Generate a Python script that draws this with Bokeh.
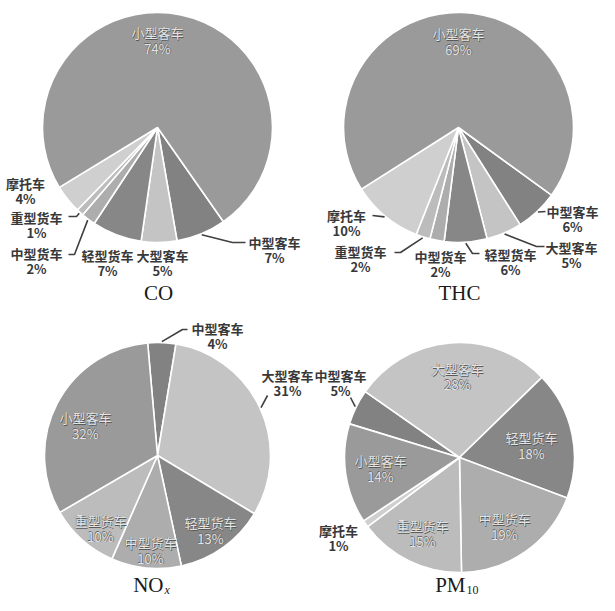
import numpy as np
from bokeh.plotting import figure
from bokeh.models import Range1d
from bokeh.embed import file_html
from bokeh.resources import INLINE
from bokeh.core.properties import value

# ---------------- data ----------------
categories = ["中型客车", "大型客车", "轻型货车", "中型货车", "重型货车", "摩托车", "小型客车"]
slice_colors = ["#828282", "#c4c4c4", "#878787", "#adadad", "#bcbcbc", "#cfcfcf", "#9a9a9a"]

co_values = [7, 5, 7, 2, 1, 4, 74]
thc_values = [6, 5, 6, 2, 2, 10, 69]
nox_values = [4, 31, 13, 10, 10, 0, 32]
pm10_values = [5, 28, 18, 19, 15, 1, 14]

# ---------------- layout (reference pixel coordinates, 1:1) ----------------
H = 611
FW, FH = 599, 595
CJK = "Noto Sans CJK SC"
SERIF = "Liberation Serif"

pies = [
    dict(title=("CO", ""), values=co_values, cx=157, cy=127, r=115, start=145, tx=158, ty=292,
         labels={"中型客车": (274, 242, False), "大型客车": (162, 255, False), "轻型货车": (107, 255, False),
                 "中型货车": (36, 253, False), "重型货车": (36, 217, False), "摩托车": (25, 183, False),
                 "小型客车": (157, 32, True)},
         leaders={"中型客车": [(232, 242), (245, 242)], "重型货车": [(76, 216), (68, 216)],
                  "中型货车": [(74, 254), (68, 254)]}),
    dict(title=("THC", ""), values=thc_values, cx=458, cy=127, r=115, start=126, tx=459, ty=292,
         labels={"中型客车": (572, 211, False), "大型客车": (571, 247, False), "轻型货车": (510, 254, False),
                 "中型货车": (440, 256, False), "重型货车": (360, 251, False), "摩托车": (346, 215, False),
                 "小型客车": (458, 33, True)},
         leaders={"中型客车": [(545, 211)], "大型客车": [(536, 246), (544, 246)],
                  "轻型货车": [(472, 253), (479, 253)], "重型货车": [(400, 252), (394, 252)],
                  "摩托车": [(372, 215)]}),
    dict(title=("NO", "x"), values=nox_values, cx=157, cy=455, r=113, start=355, tx=157, ty=584,
         labels={"中型客车": (217, 328, False), "大型客车": (287, 375, False), "轻型货车": (210, 522, True),
                 "中型货车": (150, 542, True), "重型货车": (100, 520, True), "小型客车": (85, 417, True)},
         leaders={"中型客车": [(182, 329), (187, 329)], "大型客车": [(267, 395)]}),
    dict(title=("PM", "10"), values=pm10_values, cx=459, cy=457, r=115, start=287, tx=459, ty=584,
         labels={"中型客车": (340, 375, False), "大型客车": (457, 368, True), "轻型货车": (531, 437, True),
                 "中型货车": (504, 518, True), "重型货车": (422, 525, True), "摩托车": (338, 530, False),
                 "小型客车": (380, 460, True)},
         leaders={"中型客车": [(350, 397)]}),
]

p = figure(width=FW, height=FH, x_range=Range1d(0, FW), y_range=Range1d(H - FH, H),
           output_backend="svg", toolbar_location=None, min_border=0)
p.axis.visible = False
p.grid.visible = False
p.outline_line_color = None
p.background_fill_color = "white"
p.border_fill_color = "white"

for pie in pies:
    vals = np.array(pie["values"], dtype=float)
    frac = vals / vals.sum()
    ends = pie["start"] + np.cumsum(frac) * 360.0
    starts = ends - frac * 360.0
    mids = (starts + ends) / 2.0
    idx = [i for i in range(len(vals)) if vals[i] > 0]
    p.wedge(x=pie["cx"], y=H - pie["cy"], radius=pie["r"],
            start_angle=list(np.radians(90 - starts[idx])),
            end_angle=list(np.radians(90 - ends[idx])),
            direction="clock", fill_color=[slice_colors[i] for i in idx],
            line_color="white", line_width=1.6)

    # leader lines
    for cat, pts in pie["leaders"].items():
        i = categories.index(cat)
        a = np.radians(mids[i])
        ex = pie["cx"] + (pie["r"] + 1) * np.sin(a)
        ey = pie["cy"] - (pie["r"] + 1) * np.cos(a)
        xs = [ex] + [q[0] for q in pts]
        ys = [H - ey] + [H - q[1] for q in pts]
        p.line(xs, ys, line_color="#404040", line_width=1.6)

    # labels
    for cat, (lx, ly, inside) in pie["labels"].items():
        i = categories.index(cat)
        pct = f"{pie['values'][i]}%"
        if inside:
            for dx, dy, col in [(0.8, -0.8, "#5a5a5a"), (-0.5, 0.5, "#6a6a6a"), (0, 0, "#e4e4e4")]:
                p.text(x=[lx + dx, lx + dx], y=[H - ly + dy, H - ly - 15.5 + dy], text=[cat, pct],
                       text_font=value(CJK), text_font_size="13px", text_color=col,
                       text_align="center", text_baseline="middle")
        else:
            p.text(x=[lx, lx], y=[H - ly, H - ly - 14.5], text=[cat, pct],
                   text_font=value(CJK), text_font_size="13px", text_font_style="bold",
                   text_color="#383838", text_align="center", text_baseline="middle")

    # titles
    main, sub = pie["title"]
    if sub:
        p.text(x=[pie["tx"] + 6], y=[H - pie["ty"]], text=[main], text_font=value(SERIF),
               text_font_size="21px", text_color="#1a1a1a", text_align="right", text_baseline="middle")
        p.text(x=[pie["tx"] + 7], y=[H - pie["ty"] - 5], text=[sub], text_font=value(SERIF),
               text_font_size="12px", text_color="#1a1a1a", text_align="left", text_baseline="middle",
               text_font_style="italic" if sub == "x" else "normal")
    else:
        p.text(x=[pie["tx"]], y=[H - pie["ty"]], text=[main], text_font=value(SERIF),
               text_font_size="21px", text_color="#1a1a1a", text_align="center", text_baseline="middle")

open("out.html", "w").write(file_html(p, INLINE))
